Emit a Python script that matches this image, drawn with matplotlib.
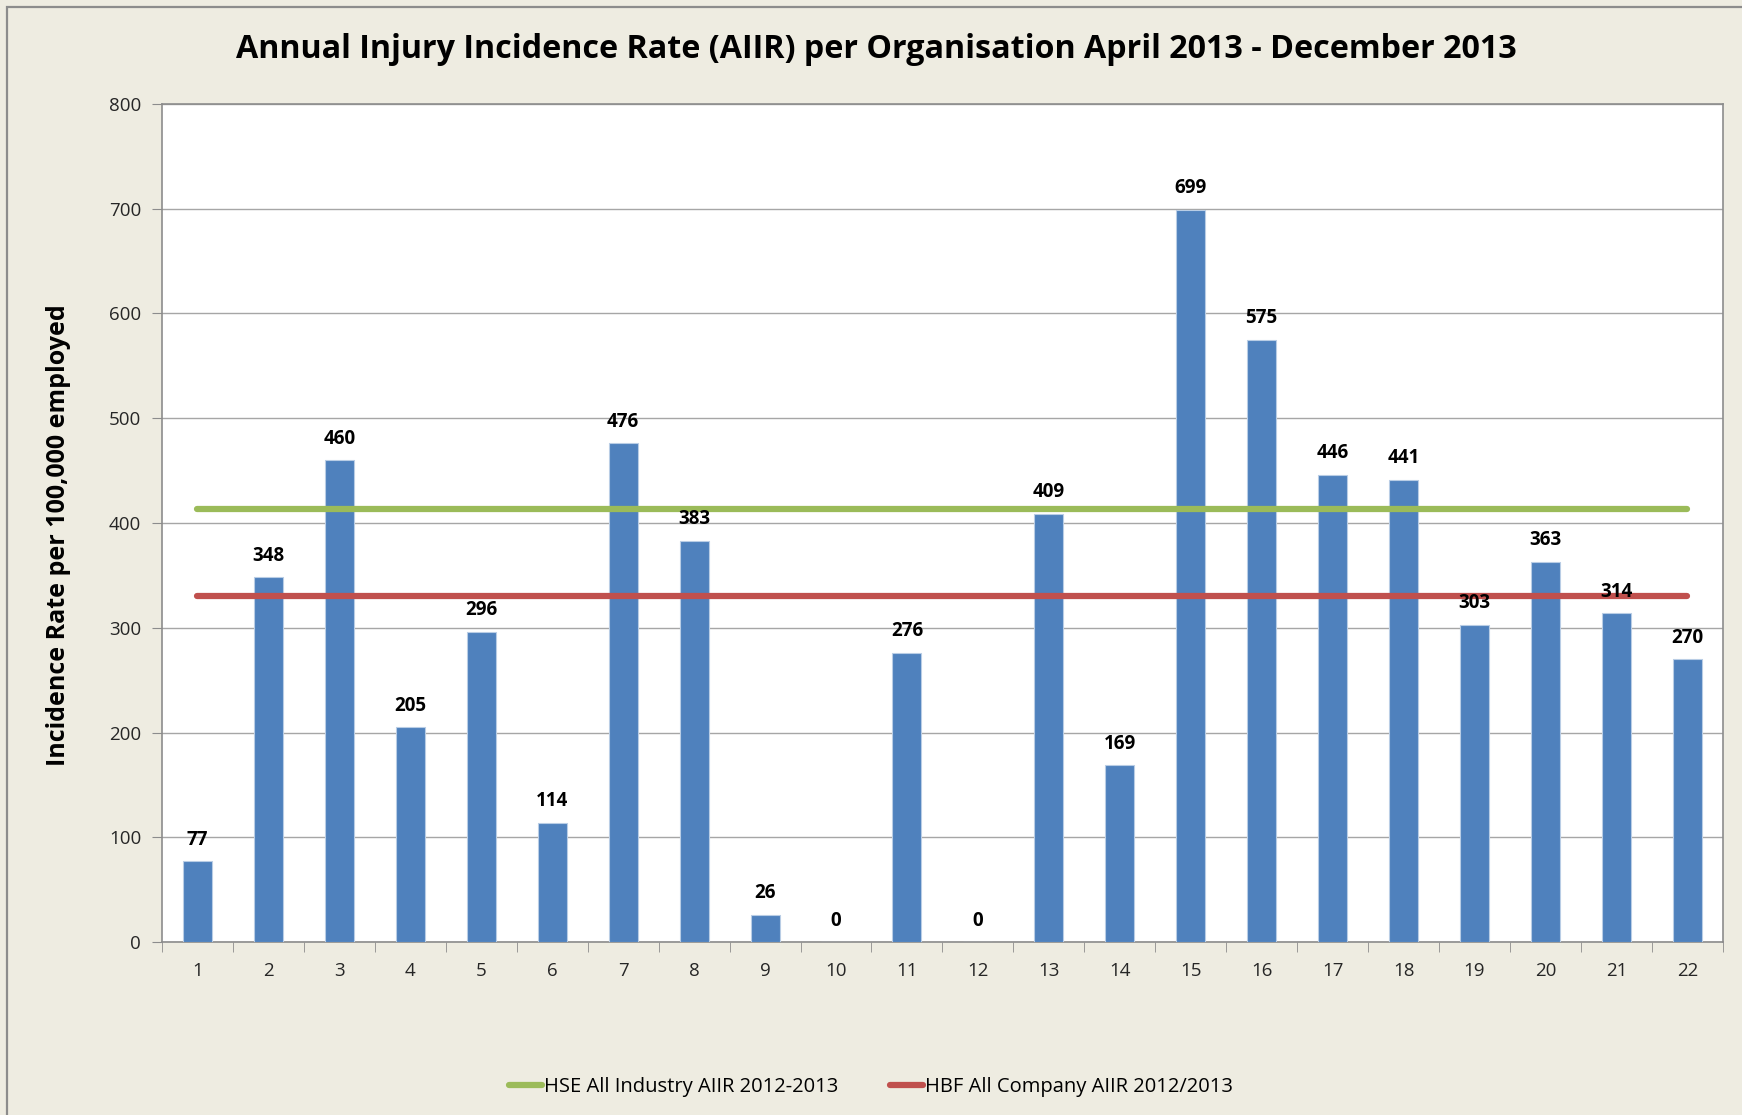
import numpy as np
import matplotlib
matplotlib.use("Agg")
import matplotlib.pyplot as plt
from matplotlib.patches import Rectangle

# Data
organisations = list(range(1, 23))
aiir = [77, 348, 460, 205, 296, 114, 476, 383, 26, 0, 276,
        0, 409, 169, 699, 575, 446, 441, 303, 363, 314, 270]
hse_all_industry = 413
hbf_all_company = 330

title = "Annual Injury Incidence Rate (AIIR) per Organisation April 2013 - December 2013"
ylabel = "Incidence Rate per 100,000 employed"
hse_label = "HSE All Industry AIIR 2012-2013"
hbf_label = "HBF All Company AIIR 2012/2013"

bg = "#EEECE1"
bar_blue = "#4F81BD"
green = "#9BBB59"
red = "#C0504D"
grid_grey = "#A6A6A6"

plt.rcParams['font.family'] = ['Open Sans', 'DejaVu Sans']

fig = plt.figure(figsize=(17.42, 11.15), dpi=100, facecolor=bg)
ax = fig.add_axes([0.093, 0.155, 0.896, 0.752])
ax.set_facecolor("white")

# outer frame of the chart area
fig.patches.append(Rectangle((0.004, -0.05), 1.2, 1.044, transform=fig.transFigure,
                             fill=False, edgecolor="#8C8C8C", linewidth=1.6))

x = np.arange(len(organisations))
ax.bar(x, aiir, width=0.41, color=bar_blue, edgecolor="#B9CDE5", linewidth=0.8, zorder=3)

for xi, v in zip(x, aiir):
    ax.text(xi, v + 11, str(v), ha="center", va="bottom", fontsize=13.5,
            fontweight="bold", color="black", zorder=5)

ax.plot([x[0], x[-1]], [hse_all_industry] * 2, color=green, linewidth=4.5,
        solid_capstyle="round", zorder=4, label=hse_label)
ax.plot([x[0], x[-1]], [hbf_all_company] * 2, color=red, linewidth=4.5,
        solid_capstyle="round", zorder=4, label=hbf_label)

ax.set_xlim(-0.5, len(organisations) - 0.5)
ax.set_ylim(0, 800)
ax.set_yticks(range(0, 801, 100))
ax.yaxis.grid(True, color=grid_grey, linewidth=1.0, zorder=0)
ax.set_axisbelow(True)

ax.set_xticks(x)
ax.set_xticklabels([str(o) for o in organisations], fontsize=13.5, color="#262626")
ax.tick_params(axis="x", which="major", length=0, pad=14)
ax.set_xticks(np.arange(-0.5, len(organisations), 1), minor=True)
ax.tick_params(axis="x", which="minor", length=7, color="#8C8C8C", direction="out")
ax.tick_params(axis="y", length=7, color="#8C8C8C", labelsize=13.5, labelcolor="#262626", pad=8)

for s in ax.spines.values():
    s.set_color("#8C8C8C")
    s.set_linewidth(1.2)

ax.set_ylabel(ylabel, fontsize=18, fontweight="bold")
ax.yaxis.set_label_coords(-0.058, 0.486)
fig.suptitle(title, x=0.503, y=0.97, fontsize=23.2, fontweight="bold")

fig.legend(loc="center", bbox_to_anchor=(0.5, 0.025), ncol=2, frameon=False,
           fontsize=14.5, handlelength=1.6, handletextpad=0.1, columnspacing=2.6)

fig.savefig("out.png", dpi=100, facecolor=bg)
